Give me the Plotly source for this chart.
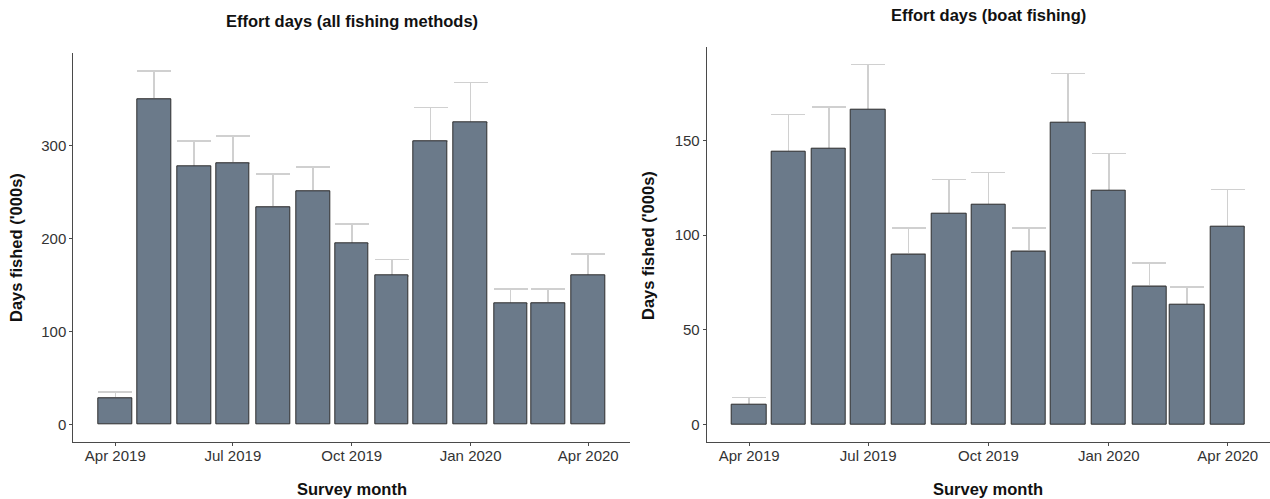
import plotly.graph_objects as go

months = ["2019-04-01", "2019-05-01", "2019-06-01", "2019-07-01", "2019-08-01", "2019-09-01",
          "2019-10-01", "2019-11-01", "2019-12-01", "2020-01-01", "2020-02-01", "2020-03-01",
          "2020-04-01"]

all_days = [28.7, 350.5, 277.7, 281.7, 234.4, 251.3, 195.0, 160.2, 305.0, 325.0, 130.1, 130.8, 160.2]
all_upper = [35.0, 380.6, 305.4, 310.8, 269.9, 277.1, 216.1, 177.8, 341.2, 368.1, 145.9, 146.2, 183.9]

boat_days = [10.2, 144.2, 145.5, 166.3, 89.9, 111.3, 116.1, 91.5, 159.6, 123.6, 73.0, 63.3, 104.2]
boat_upper = [14.1, 163.8, 167.7, 190.1, 103.9, 129.4, 133.1, 103.9, 185.5, 143.2, 85.2, 72.6, 124.1]

tick_dates = ["2019-04-01", "2019-07-01", "2019-10-01", "2020-01-01", "2020-04-01"]
tick_labels = ["Apr 2019", "Jul 2019", "Oct 2019", "Jan 2020", "Apr 2020"]

left_yticks = [0, 100, 200, 300]
right_yticks = [0, 50, 100, 150]

titles = ["Effort days (all fishing methods)", "Effort days (boat fishing)"]
x_title = "Survey month"
y_title = "Days fished ('000s)"

FILL = "#6b7a8a"
OUTLINE = "#2e2e2e"
ERR = "#d0d0d0"
BAR_W = 26.1 * 86400000
FONT = "Liberation Sans, Arial, sans-serif"

fig = go.Figure()


def add(vals, upper, xa, ya):
    err = [u - v for u, v in zip(upper, vals)]
    # error bars first (underneath), so the bars cover the lower whisker
    fig.add_trace(go.Bar(
        x=months, y=vals, width=[BAR_W] * len(months), xaxis=xa, yaxis=ya,
        marker=dict(color="rgba(0,0,0,0)", line=dict(width=0)),
        error_y=dict(type="data", symmetric=False, array=err, arrayminus=[0] * len(err),
                     color=ERR, thickness=1.5, width=17),
        showlegend=False, hoverinfo="skip"))
    fig.add_trace(go.Bar(
        x=months, y=vals, width=[BAR_W] * len(months), xaxis=xa, yaxis=ya,
        marker=dict(color=FILL, line=dict(color=OUTLINE, width=1)),
        showlegend=False, hoverinfo="x+y"))


add(all_days, all_upper, "x", "y")
add(boat_days, boat_upper, "x2", "y2")

W, H = 1270, 499
xr = ["2019-02-27 12:00", "2020-05-03 08:00"]

common_x = dict(type="date", range=xr, tickvals=tick_dates, ticktext=tick_labels,
                showline=True, linecolor="#4a4a4a", linewidth=1, ticks="outside",
                ticklen=3, tickcolor="#4a4a4a", showgrid=False, zeroline=False,
                ticklabelstandoff=-3,
                tickfont=dict(family=FONT, size=15, color="#333333"))
common_y = dict(showline=True, linecolor="#4a4a4a", linewidth=1, ticks="outside",
                ticklen=3, tickcolor="#4a4a4a", showgrid=False, zeroline=False,
                tickfont=dict(family=FONT, size=15, color="#333333"))

L0, L1 = 73.3 / W, 630 / W
R0, R1 = 706.7 / W, 1.0
YB = 1 - 442.3 / H
YT_L = 1 - 53.3 / H
YT_R = 1 - 46.7 / H

fig.update_layout(
    width=W, height=H, margin=dict(l=0, r=0, t=0, b=0),
    plot_bgcolor="white", paper_bgcolor="white", bargap=0, barmode="overlay",
    xaxis=dict(domain=[L0, L1], anchor="y", **common_x),
    yaxis=dict(domain=[YB, YT_L], anchor="x", range=[-19.0, 399.6],
               tickvals=left_yticks, **common_y),
    xaxis2=dict(domain=[R0, R1], anchor="y2", **common_x),
    yaxis2=dict(domain=[YB, YT_R], anchor="x2", range=[-9.5, 199.6],
                tickvals=right_yticks, **common_y),
)

tfont = dict(family=FONT, size=16.5, color="#111111")
ann = [
    dict(text="<b>%s</b>" % titles[0], x=(73.3 + 630) / 2 / W, y=1 - 21 / H),
    dict(text="<b>%s</b>" % titles[1], x=(706.7 + 1270) / 2 / W, y=1 - 15 / H),
    dict(text="<b>%s</b>" % x_title, x=(73.3 + 630) / 2 / W, y=1 - 489 / H),
    dict(text="<b>%s</b>" % x_title, x=(706.7 + 1270) / 2 / W, y=1 - 489 / H),
    dict(text="<b>%s</b>" % y_title, x=16 / W, y=1 - 248 / H, textangle=-90),
    dict(text="<b>%s</b>" % y_title, x=648 / W, y=1 - 246 / H, textangle=-90),
]
for a in ann:
    a.update(xref="paper", yref="paper", showarrow=False, font=tfont,
             xanchor="center", yanchor="middle")
fig.update_layout(annotations=ann)

fig.write_html("out.html", config={"displayModeBar": False},
               post_script="document.body.style.margin='0';document.body.style.overflow='hidden';")
